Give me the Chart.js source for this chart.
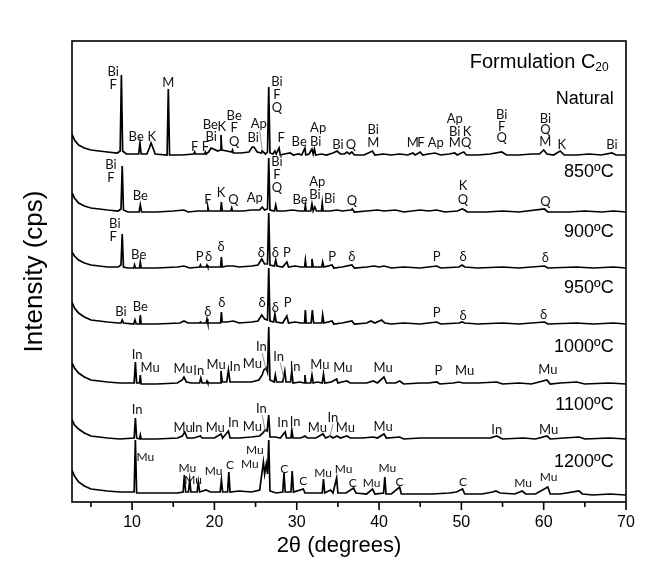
<!DOCTYPE html>
<html lang="en">
<head>
<meta charset="UTF-8">
<title>XRD patterns - Formulation C20</title>
<script src="https://cdn.jsdelivr.net/npm/chart.js"></script>
<style>
  body { margin: 0; background: #fff; }
  canvas { display: block; }
</style>
</head>
<body>
<canvas id="xrd" width="648" height="567"></canvas>
<script>
// 2θ axis
const xMin = 2.7, xMax = 70;
const majorTicks = [10, 20, 30, 40, 50, 60, 70];
const minorTicks = [5, 15, 25, 35, 45, 55, 65];

// sample names, stacking offsets and name positions (intensity units)
const sampleNames = ['Natural', '850ºC', '900ºC', '950ºC', '1000ºC', '1100ºC', '1200ºC'];
const offsets = [347, 290, 234, 178, 118, 63, 8];
const nameY = [403, 330, 270, 214, 155, 97, 40];

// diffractograms: [2θ, counts above own baseline]
const natural = [[2.7,21],[3.0,15],[3.5,10],[4.2,7],[5,5],[6,4],[7,3],[8.2,2],[8.55,4],[8.7,80],[8.85,4],[9.3,1],[10.8,1],[10.95,12],[11.1,1],[11.8,1],[12.1,7],[12.3,12],[12.5,8],[12.8,1],[14.25,0],[14.4,66],[14.55,0],[16,0],[17.5,1],[17.6,3],[17.7,1],[18.8,1],[18.9,3],[19.0,1],[19.3,3],[19.6,7],[19.9,6],[20.4,4],[20.7,5],[20.8,20],[20.9,5],[21.5,4],[22.1,3],[22.2,5],[22.3,2],[23.2,2],[24.2,3],[24.6,8],[24.8,8],[25.2,3],[25.7,2],[25.8,4],[26.2,1],[26.45,3],[26.6,68],[26.75,2],[27.1,1],[27.35,4],[27.5,1],[27.85,7],[28.0,0],[28.5,1],[29.2,2],[29.6,0],[30.2,1],[30.6,0],[31.0,7],[31.1,0],[31.5,1],[31.85,6],[32.0,1],[32.15,6],[32.3,0],[33.0,1],[33.6,0],[34.4,2],[34.9,4],[35.3,1],[35.8,1],[36.1,3],[36.4,1],[36.7,3],[37.0,0],[38.2,0],[39.2,4],[39.5,0],[40.5,1],[41.5,0],[42.5,1],[43.5,0],[44.1,2],[44.4,0],[45.0,3],[45.3,0],[46.0,1],[46.8,2],[47.5,0],[48.5,1],[49.2,2],[49.5,0],[50.0,2],[50.3,3],[50.6,0],[52.0,0],[53.5,1],[54.9,3],[55.5,0],[57.0,0],[58.5,1],[59.5,1],[60.0,5],[60.4,1],[61.2,0],[62.0,4],[62.5,0],[64.0,0],[65.5,1],[67.0,0],[68.3,2],[68.8,0],[70,0]];
const t850 = [[2.7,19],[3.0,14],[3.5,9],[4.2,6],[5,4],[6,3],[7,2],[8.3,1],[8.65,3],[8.8,46],[8.95,2],[9.5,0],[10.85,0],[11.0,7],[11.15,0],[13,0],[15,1],[16.3,2],[16.8,0],[18,1],[19.1,1],[19.2,5],[19.3,1],[20.0,1],[20.75,1],[20.85,10],[20.95,1],[22.0,1],[22.1,4],[22.2,1],[23.5,1],[24.5,2],[25.5,2],[25.8,5],[26.1,2],[26.45,3],[26.6,54],[26.75,2],[27.3,1],[27.45,7],[27.6,1],[28.5,1],[29.5,2],[30.3,1],[30.95,1],[31.05,7],[31.15,1],[31.7,1],[31.85,8],[32.0,1],[32.2,5],[32.4,1],[33.0,1],[33.1,9],[33.2,1],[34.0,1],[34.9,2],[35.5,1],[36.6,2],[36.75,3],[37.0,0],[38.5,1],[39.8,2],[40.6,1],[42.0,2],[43.0,0],[45.0,2],[46.0,1],[47.0,2],[48.0,0],[49.5,1],[50.1,3],[50.4,2],[50.7,0],[53.0,0],[55.0,1],[57.0,0],[60.1,3],[60.5,0],[63.0,0],[65.0,1],[67.0,0],[68.5,1],[70,0]];
const t900 = [[2.7,16],[3.0,12],[3.5,8],[4.2,5],[5,3],[6,2],[7,1],[8.3,1],[8.65,3],[8.8,34],[8.95,1],[9.5,0],[10.2,0],[10.3,3],[10.4,0],[10.9,0],[11.0,6],[11.1,0],[13,0],[15.5,1],[16.3,2],[17,0],[18.2,1],[18.3,3],[18.4,1],[19.0,1],[19.1,3],[19.2,1],[20.0,1],[20.75,1],[20.85,11],[20.95,1],[21.5,2],[22.3,2],[23.0,1],[24.5,2],[25.3,3],[25.75,9],[26.1,4],[26.45,4],[26.6,55],[26.75,3],[27.3,2],[27.45,8],[27.6,2],[28.3,1],[28.8,6],[29.0,1],[29.8,2],[30.5,1],[30.95,1],[31.05,8],[31.15,1],[31.75,1],[31.85,9],[32.0,1],[32.4,1],[33.05,1],[33.15,6],[33.3,1],[34.3,3],[34.5,0],[35.5,1],[36.7,3],[37.0,0],[38.5,1],[39.4,2],[40.0,1],[40.6,2],[41.5,0],[43.0,1],[45.0,0],[47.0,2],[47.5,0],[49.7,1],[50.1,3],[50.4,1],[52.0,0],[55.0,1],[57.0,0],[60.1,2],[60.5,0],[64.0,1],[66.0,0],[68.5,1],[70,0]];
const t950 = [[2.7,22],[3.0,16],[3.5,11],[4.2,7],[5,4],[6,3],[7,2],[8.3,1],[8.65,1],[8.8,4],[8.95,1],[10.2,0],[10.35,4],[10.5,0],[10.9,0],[11.0,9],[11.1,0],[13,0],[15.8,1],[16.3,3],[16.8,1],[18.2,1],[18.3,2],[18.4,1],[19.0,1],[19.1,5],[19.2,1],[20.0,1],[20.75,1],[20.85,12],[20.95,2],[21.5,2],[22.3,3],[23.0,1],[24.5,2],[25.3,3],[25.75,9],[26.1,5],[26.45,4],[26.6,56],[26.75,3],[27.2,2],[27.35,10],[27.5,2],[28.3,1],[28.8,8],[29.0,1],[29.8,2],[30.5,1],[30.95,1],[31.05,14],[31.15,1],[31.75,1],[31.9,14],[32.05,1],[32.5,1],[33.05,1],[33.15,9],[33.3,1],[34.3,3],[34.5,0],[35.5,1],[36.7,3],[37.0,0],[38.5,1],[39.0,3],[39.5,1],[40.3,4],[40.7,1],[41.5,0],[43.0,1],[45.0,0],[47.0,2],[47.5,0],[49.7,1],[50.1,2],[50.4,1],[52.0,0],[55.0,1],[57.0,0],[60.1,2],[60.5,0],[64.0,1],[66.0,0],[68.5,1],[70,0]];
const t1000 = [[2.7,21],[3.0,16],[3.5,11],[4.2,7],[5,4],[6,3],[7,2],[8.5,1],[10.25,1],[10.4,22],[10.55,1],[10.9,1],[11.0,9],[11.1,0],[13,0],[15.5,1],[16.1,4],[16.3,7],[16.6,2],[17.2,1],[18.2,1],[18.35,6],[18.5,1],[19.0,1],[19.1,3],[19.2,1],[20.0,1],[20.7,1],[20.8,13],[20.95,2],[21.5,2],[21.7,14],[21.9,2],[23.0,2],[24.5,2],[25.4,4],[25.8,9],[26.0,14],[26.3,16],[26.45,12],[26.6,57],[26.75,4],[27.25,2],[27.4,9],[27.55,2],[28.3,2],[28.55,13],[28.7,2],[29.25,2],[29.4,13],[29.55,1],[30.4,2],[30.9,1],[31.0,9],[31.1,1],[31.7,1],[31.85,9],[32.0,1],[32.5,2],[33.1,1],[33.25,10],[33.4,1],[34.2,2],[34.85,5],[35.0,1],[35.5,2],[36.1,3],[36.5,1],[37.5,1],[38.5,1],[39.3,3],[39.8,1],[40.6,7],[40.9,1],[42.0,1],[42.5,3],[43.0,0],[45.0,1],[46.0,1],[47.0,2],[47.4,0],[49.0,1],[49.7,2],[50.2,1],[52.0,1],[54.3,2],[55.0,0],[57.0,1],[58.5,0],[60.4,4],[60.8,0],[62.0,1],[64.0,2],[65.0,0],[68,1],[70,0]];
const t1100 = [[2.7,19],[3.0,14],[3.5,10],[4.2,6],[5,3],[6,2],[7,1],[8.5,0],[10.25,1],[10.4,21],[10.55,1],[10.9,0],[11.0,4],[11.1,0],[13,0],[15.5,1],[16.1,3],[16.4,7],[16.7,1],[17.5,1],[18.3,3],[18.5,1],[19.2,1],[20.0,1],[20.8,5],[21.0,1],[21.7,8],[21.9,1],[23.0,1],[24.5,2],[25.5,3],[25.9,6],[26.15,9],[26.4,8],[26.6,24],[26.75,2],[27.4,2],[28.0,1],[28.6,7],[28.75,1],[29.3,1],[29.4,9],[29.55,1],[30.5,1],[31.0,3],[31.3,1],[32.3,1],[33.2,5],[33.5,1],[34.1,3],[34.4,1],[34.9,3],[35.3,1],[36.1,3],[36.5,1],[38.0,1],[39.3,2],[39.8,1],[40.6,5],[40.9,1],[42.5,2],[43.0,0],[45.0,1],[47.0,1],[49.0,1],[50.0,1],[52.0,1],[53.5,1],[54.3,3],[55.0,0],[57.5,1],[59.0,0],[60.4,3],[60.8,0],[62.5,1],[64.3,2],[65.0,0],[68,1],[70,0]];
const t1200 = [[2.7,24],[3.0,18],[3.5,12],[4.2,8],[5,5],[6,4],[7,3],[8.5,2],[10.25,2],[10.4,54],[10.55,1],[11.5,1],[13,1],[15.5,1],[16.2,2],[16.35,19],[16.5,2],[16.85,2],[17.0,14],[17.15,2],[17.9,2],[18.05,12],[18.2,2],[19.0,4],[19.5,2],[20.7,2],[20.85,14],[21.0,2],[21.6,2],[21.75,22],[21.9,2],[23.0,3],[24.5,2],[25.5,4],[25.95,32],[26.1,20],[26.3,30],[26.45,20],[26.6,54],[26.75,3],[27.5,1],[28.3,2],[28.45,21],[28.6,2],[29.3,2],[29.45,23],[29.6,2],[30.8,5],[31.0,1],[32.2,1],[33.1,1],[33.25,15],[33.4,1],[34.1,4],[34.4,1],[34.85,16],[35.0,1],[36.0,1],[36.9,6],[37.2,1],[38.5,0],[39.2,5],[39.5,0],[40.55,1],[40.7,17],[40.85,0],[41.5,0],[42.5,7],[42.7,0],[44.5,0],[46.5,0],[48.5,1],[49.4,2],[50.15,5],[50.4,0],[52.5,0],[53.8,2],[54.2,3],[54.7,1],[56.5,0],[57.4,3],[57.8,0],[59.0,0],[60.5,7],[60.8,0],[62.0,0],[64.3,3],[64.7,0],[66.0,-1],[68.0,0],[70,-1]];
const patterns = [natural, t850, t900, t950, t1000, t1100, t1200];

// phase labels: [text, 2θ, intensity]
const labelsNatural = [['Bi',7.7,430],['F',7.7,417],['Be',10.5,365],['K',12.4,365],['M',14.4,419],['F',17.6,355],['F',18.9,355],['Be',19.5,377],['Bi',19.6,365],['K',20.9,375],['Be',22.4,386],['F',22.4,374],['Q',22.4,360],['Ap',25.4,378],['Bi',24.7,364],['Bi',27.6,420],['F',27.6,407],['Q',27.6,394],['F',28.1,364],['Be',30.3,360],['Ap',32.6,374],['Bi',32.3,360],['Bi',35.0,357],['Q',36.6,357],['Bi',39.3,372],['M',39.3,359],['M',44.1,359],['F',45.1,359],['Ap',46.9,359],['Ap',49.2,383],['Bi',49.2,370],['M',49.2,359],['K',50.7,370],['Q',50.6,359],['Bi',54.9,387],['F',54.9,375],['Q',54.9,364],['Bi',60.2,383],['Q',60.2,372],['M',60.2,360],['K',62.2,357],['Bi',68.3,357]];
const labels850 = [['Bi',7.44,337],['F',7.44,324],['Be',11.0,306],['F',19.2,302],['K',20.8,309],['Q',22.3,302],['Ap',24.9,304],['Bi',27.6,340],['F',27.6,327],['Q',27.6,314],['Be',30.4,302],['Ap',32.5,320],['Bi',32.2,307],['Bi',34.0,303],['Q',36.7,301],['K',50.2,316],['Q',50.2,302],['Q',60.2,300]];
const labels900 = [['Bi',7.9,278],['F',7.7,265],['Be',10.8,247],['P',18.2,245],['δ',19.3,245],['δ',20.8,255],['δ',25.7,249],['δ',27.4,249],['P',28.8,249],['P',34.3,245],['δ',36.7,245],['P',47.0,245],['δ',50.2,245],['δ',60.2,244]];
const labels950 = [['Bi',8.65,190],['Be',11.0,195],['δ',19.2,190],['δ',20.9,199],['δ',25.8,199],['δ',27.4,194],['P',28.9,199],['P',47.0,189],['δ',50.2,186],['δ',60.0,187]];
const labels1000 = [['In',10.6,147],['Mu',12.2,134],['Mu',16.2,133],['In',18.1,131],['Mu',20.2,137],['In',22.5,135],['Mu',24.6,138],['In',25.7,155],['In',27.8,145],['In',29.8,135],['Mu',32.8,137],['Mu',35.6,134],['Mu',40.5,134],['P',47.2,131],['Mu',50.4,131],['Mu',60.5,132]];
const labels1100 = [['In',10.6,92],['Mu',16.2,74],['In',17.9,74],['Mu',20.1,74],['In',22.3,79],['Mu',24.6,75],['In',25.7,93],['In',28.3,79],['In',29.8,80],['Mu',32.5,74],['In',34.4,84],['Mu',35.9,74],['Mu',40.5,75],['In',54.3,72],['Mu',60.6,72]];
const labels1200 = [['Mu',11.6,45],['Mu',16.7,34],['Mu',17.4,22],['Mu',19.9,31],['C',21.9,37],['Mu',24.9,52],['Mu',24.3,38],['C',28.5,33],['C',30.8,21],['Mu',33.2,29],['Mu',35.7,33],['C',36.8,19],['Mu',39.1,19],['Mu',41.0,34],['C',42.5,20],['C',50.2,20],['Mu',57.5,19],['Mu',60.6,25]];
const phaseLabels = [labelsNatural, labels850, labels900, labels950, labels1000, labels1100, labels1200];

// leader lines from a label to its peak: [2θ1, y1, 2θ2, y2]
const leaders = [[25.5,372,25.8,352],[25.8,149,26.3,132],[28.0,139,28.5,122],[25.8,87,26.2,70],[34.4,78,34.0,65]];

const SANS = "'Liberation Sans', Arial, sans-serif";
const LABEL_FONT = "Lato, 'Liberation Sans', sans-serif";

// box round the plot, outward ticks, axis titles, phase labels and sample names
const decorations = {
  id: 'decorations',
  afterDatasetsDraw(chart) {
    const { ctx, chartArea: a, scales: { x, y } } = chart;
    ctx.save();
    ctx.strokeStyle = '#000';
    ctx.lineWidth = 1.6;
    ctx.strokeRect(a.left, a.top, a.right - a.left, a.bottom - a.top);
    ctx.beginPath();
    majorTicks.forEach(v => { const px = x.getPixelForValue(v); ctx.moveTo(px, a.bottom); ctx.lineTo(px, a.bottom + 8); });
    minorTicks.forEach(v => { const px = x.getPixelForValue(v); ctx.moveTo(px, a.bottom); ctx.lineTo(px, a.bottom + 5); });
    ctx.stroke();

    ctx.strokeStyle = '#777';
    ctx.lineWidth = 0.8;
    ctx.beginPath();
    leaders.forEach(([x1, y1, x2, y2]) => {
      ctx.moveTo(x.getPixelForValue(x1), y.getPixelForValue(y1));
      ctx.lineTo(x.getPixelForValue(x2), y.getPixelForValue(y2));
    });
    ctx.stroke();

    ctx.fillStyle = '#111';
    ctx.textAlign = 'center';
    ctx.textBaseline = 'middle';
    phaseLabels.forEach((list, i) => {
      ctx.font = (i === 6 ? 12 : 13) + 'px ' + LABEL_FONT;
      list.forEach(([t, tx, ty]) => ctx.fillText(t, x.getPixelForValue(tx), y.getPixelForValue(ty)));
    });

    // axis titles
    ctx.fillStyle = '#000';
    ctx.font = '22px ' + SANS;
    ctx.fillText('2θ (degrees)', 339, 546);
    ctx.save();
    ctx.translate(35, (a.top + a.bottom) / 2);
    ctx.rotate(-Math.PI / 2);
    ctx.font = '26px ' + SANS;
    ctx.fillText('Intensity (cps)', 0, 0);
    ctx.restore();

    ctx.textAlign = 'right';
    ctx.font = '18px ' + SANS;
    const nx = x.getPixelForValue(68.5);
    sampleNames.forEach((n, i) => ctx.fillText(n, nx, y.getPixelForValue(nameY[i])));

    // Formulation C20 with subscript
    const ty = y.getPixelForValue(440);
    const tx = x.getPixelForValue(67.9);
    ctx.font = '12px ' + SANS;
    const subW = ctx.measureText('20').width;
    ctx.fillText('20', tx, ty + 6);
    ctx.font = '20px ' + SANS;
    ctx.fillText('Formulation C', tx - subW, ty);
    ctx.restore();
  }
};

new Chart(document.getElementById('xrd'), {
  type: 'line',
  data: {
    datasets: patterns.map((p, i) => ({
      label: sampleNames[i],
      data: p.map(([t, c]) => [t, c + offsets[i]]),
      borderColor: '#000',
      borderWidth: 1.7,
      pointRadius: 0,
      tension: 0,
      fill: false
    }))
  },
  options: {
    responsive: false,
    animation: false,
    layout: { padding: { top: 41, right: 22, left: 0, bottom: 0 } },
    scales: {
      x: {
        type: 'linear', min: xMin, max: xMax,
        afterBuildTicks: s => { s.ticks = majorTicks.map(v => ({ value: v })); },
        afterFit: s => { s.height = 65; },
        grid: { display: false, drawTicks: false },
        border: { display: false },
        ticks: { color: '#000', padding: 11, maxRotation: 0, font: { family: SANS, size: 16 } }
      },
      y: {
        min: 0, max: 461,
        afterFit: s => { s.width = 72; },
        grid: { display: false, drawTicks: false },
        border: { display: false },
        ticks: { display: false }
      }
    },
    plugins: { legend: { display: false }, tooltip: { enabled: false } }
  },
  plugins: [decorations]
});
</script>
</body>
</html>
